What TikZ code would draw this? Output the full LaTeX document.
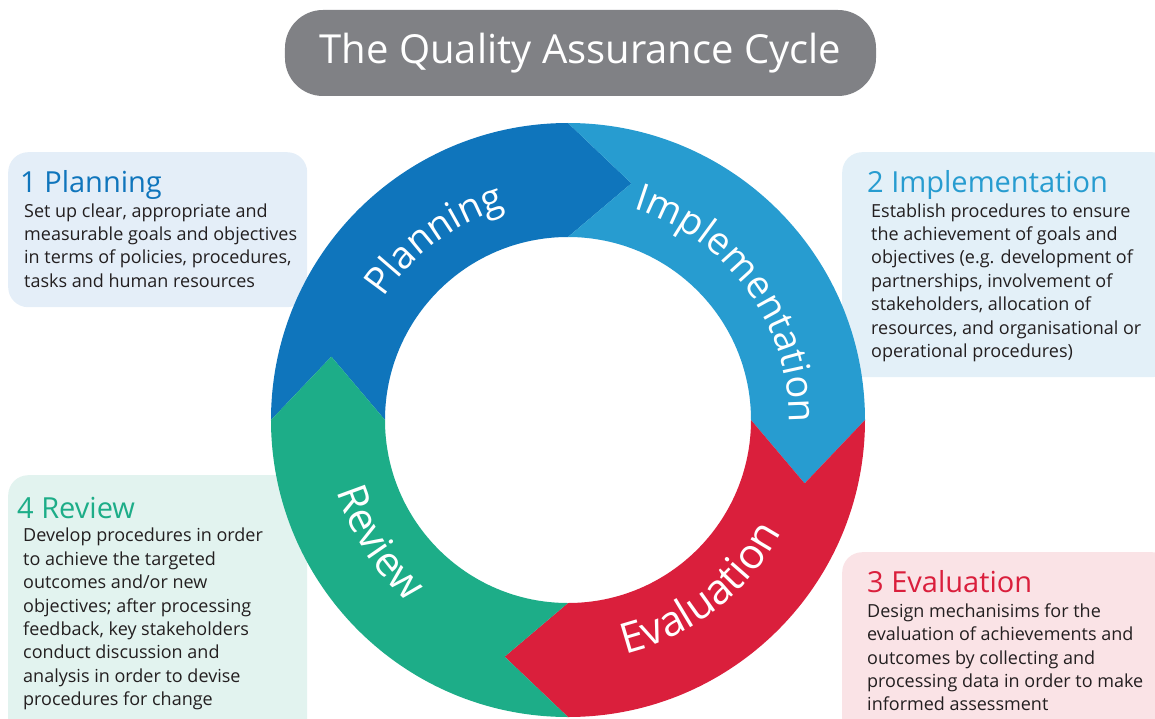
\documentclass[tikz,border=0pt]{standalone}
\usepackage{fontspec}
\setmainfont{Open Sans}
\usetikzlibrary{positioning}
\usetikzlibrary{calc}
\usetikzlibrary{decorations.text}

\definecolor{plancol}{RGB}{15,117,188}
\definecolor{implcol}{RGB}{39,156,208}
\definecolor{evalcol}{RGB}{218,31,60}
\definecolor{revcol}{RGB}{29,173,136}
\definecolor{planbg}{RGB}{228,238,248}
\definecolor{implbg}{RGB}{227,240,248}
\definecolor{evalbg}{RGB}{250,227,230}
\definecolor{revbg}{RGB}{226,243,239}
\definecolor{titlegray}{RGB}{128,129,133}
\definecolor{bodyblack}{RGB}{35,31,32}

\tikzset{
	infobox/.style = {rectangle, rounded corners=20pt, minimum width=299pt, inner sep=0pt, anchor=north west},
	boxtitle/.style = {anchor=base west, inner sep=0pt, font=\fontsize{29}{34}\selectfont},
	boxbody/.style = {anchor=north west, inner sep=0pt, align=left, text=bodyblack, font=\fontsize{18}{23.4}\selectfont},
	ringlabel/.style 2 args = {decorate, decoration={text along path, text align=center, text color=white, text={|\fontsize{#2}{44}\selectfont|#1}}}
}

\begin{document}
\begin{tikzpicture}[x=1pt,y=1pt]
		\useasboundingbox (-568,-298) rectangle (587,420);
		\clip (-568,-298) rectangle (587,420);
		\node[fill = titlegray, rectangle, rounded corners=38pt, minimum width = 591pt, minimum height = 86pt, text = white, font = \fontsize{40}{46}\selectfont] at (12.5,367) (qatitle) {The Quality Assurance Cycle};
		\node[infobox, fill = planbg, minimum height = 155pt] at (-560,268) (boxplan) {};
		\node[infobox, fill = implbg, minimum width = 330pt, minimum height = 225pt] at (274,268) (boximpl) {};
		\node[infobox, fill = revbg, minimum height = 270pt] at (-560,-55) (boxrev) {};
		\node[infobox, fill = evalbg, minimum width = 330pt, minimum height = 200pt] at (274,-132) (boxeval) {};
		\node[boxtitle, text = plancol] at ($(boxplan.north west)+(12,-40)$) (headplan) {1 Planning};
		\node[boxbody] at ($(boxplan.north west)+(16,-51.3)$) (textplan) {Set up clear, appropriate and\\measurable goals and objectives\\in terms of policies, procedures,\\tasks and human resources};
		\node[boxtitle, text = implcol] at ($(boximpl.north west)+(25,-41)$) (headimpl) {2 Implementation};
		\node[boxbody] at ($(boximpl.north west)+(29,-51.3)$) (textimpl) {Establish procedures to ensure\\the achievement of goals and\\objectives (e.g. development of\\partnerships, involvement of\\stakeholders, allocation of\\resources, and organisational or\\operational procedures)};
		\node[boxtitle, text = evalcol] at ($(boxeval.north west)+(25,-40)$) (headeval) {3 Evaluation};
		\node[boxbody] at ($(boxeval.north west)+(25,-51.3)$) (texteval) {Design mechanisims for the\\evaluation of achievements and\\outcomes by collecting and\\processing data in order to make\\informed assessment};
		\node[boxtitle, text = revcol] at ($(boxrev.north west)+(9,-43)$) (headrev) {4 Review};
		\node[boxbody] at ($(boxrev.north west)+(15,-53)$) (textrev) {Develop procedures in order\\to achieve the targeted\\outcomes and/or new\\objectives; after processing\\feedback, key stakeholders\\conduct discussion and\\analysis in order to devise\\procedures for change};
		\foreach \a/\col in {180/plancol, 90/implcol, 0/evalcol, -90/revcol}
			\fill[\col] (\a:297) arc[start angle=\a, end angle=\a-90, radius=297] -- ({\a-105}:245) -- ({\a-90}:183) arc[start angle=\a-90, end angle=\a, radius=183] -- ({\a-15}:245) -- cycle;
		\path[ringlabel={Planning}{38}] (166.5:221) arc[start angle=166.5, end angle=86.5, radius=221];
		\path[ringlabel={Implementation}{38}] (86:221) arc[start angle=86, end angle=-14, radius=221];
		\path[ringlabel={Evaluation}{42}] (-88:241) arc[start angle=-88, end angle=-16, radius=241];
		\path[ringlabel={Review}{41}] (181:242) arc[start angle=181, end angle=245, radius=242];
	\end{tikzpicture}
\end{document}
